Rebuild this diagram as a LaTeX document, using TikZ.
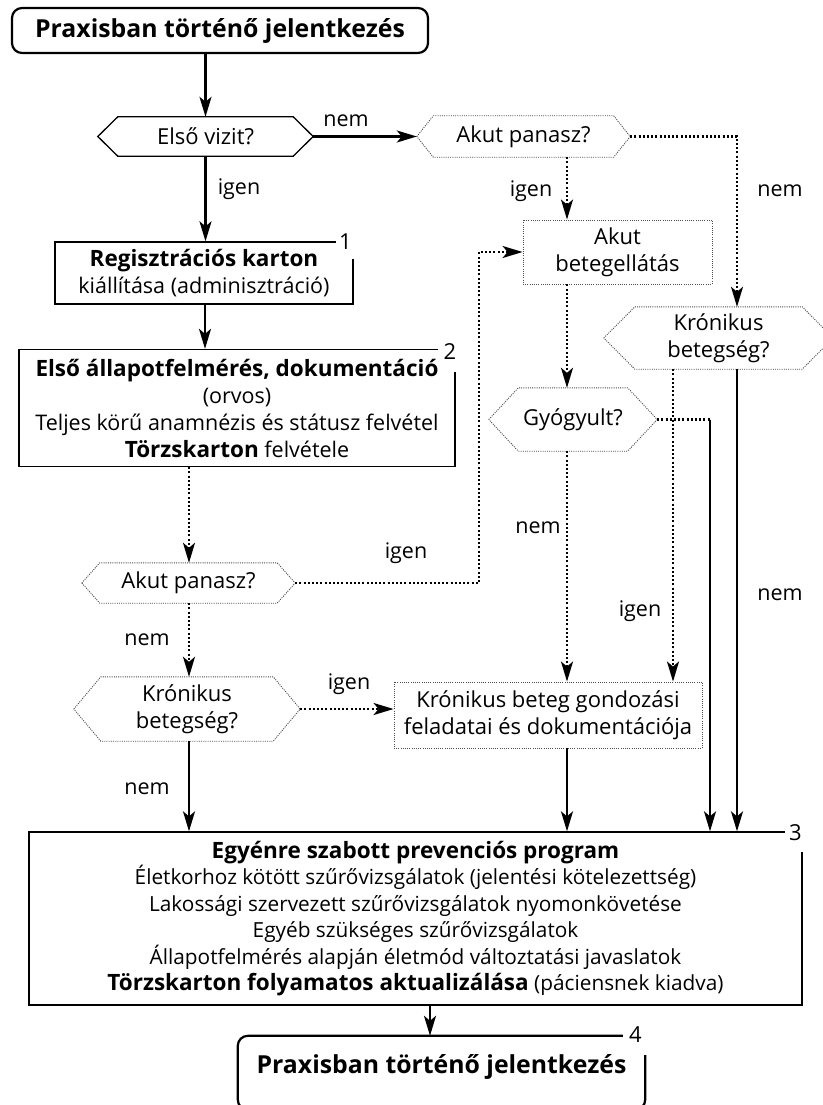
\documentclass[tikz,border=0pt]{standalone}
\usepackage{fontspec}
\setmainfont{Open Sans}
\usetikzlibrary{arrows.meta,calc}
\newcommand\hexa[3]{\draw[#3] (#1.west) -- ([xshift=#2pt]#1.north west) -- ([xshift=-#2pt]#1.north east) -- (#1.east) -- ([xshift=-#2pt]#1.south east) -- ([xshift=#2pt]#1.south west) -- cycle;}
\newcommand\bfx[1]{{\fontsize{22.5}{27}\selectfont\bfseries #1}}
\newcommand\bfy[1]{{\fontsize{22.5}{26.5}\selectfont\bfseries #1}}
\begin{document}
\begin{tikzpicture}[x=1pt,y=-1pt,
  every node/.style={font=\fontsize{22}{27}\selectfont, align=center, inner sep=0pt},
  sz/.style 2 args={minimum width=#1pt, minimum height=#2pt},
  solidbox/.style={draw, line width=1.3pt},
  dotline/.style={draw=black!70, line width=0.9pt, dash pattern=on 1pt off 1.2pt},
  dotbox/.style={dotline},
  thickbox/.style={draw, line width=2.2pt, rounded corners=10pt},
  arr/.style={line width=2.2pt, -{Stealth[length=20pt,width=12pt,inset=5pt]}},
  darr/.style={arr, dash pattern=on 2pt off 2.2pt},
  dline/.style={line width=2.2pt, dash pattern=on 2pt off 2.2pt},
  lab/.style={font=\fontsize{21.5}{26}\selectfont},
  numlab/.style={fill=white, font=\fontsize{22}{26}\selectfont},
  titlefont/.style={font=\fontsize{24.8}{28}\selectfont\bfseries},
]
\fill[white] (0,0) rectangle (822,1105);
\useasboundingbox (0,0) rectangle (822,1105);
\coordinate (c567) at (567,0);
\coordinate (c673) at (673,0);
\coordinate (c710) at (710,0);
\coordinate (c737) at (737,0);
\coordinate (c479) at (479,0);
\coordinate (c205) at (205,0);
\coordinate (c189) at (189,0);
\coordinate (c430) at (430,0);

% nodes
\node[thickbox, titlefont, sz={416}{45}] (start) at (220,30.5) {Praxisban történő jelentkezés};
\node[sz={215}{39}] (dec1) at (205.5,136.5) {Első vizit?};
\hexa{dec1}{20}{solidbox}
\node[sz={213}{41}] (akut1) at (523.5,136.5) {Akut panasz?};
\hexa{akut1}{16.5}{dotline}
\node[sz={229}{62}] (kron1) at (718.5,338) {Krónikus\\betegség?};
\hexa{kron1}{31}{dotline}
\node[dotbox, sz={189}{64}] (akutb) at (617.5,252) {Akut\\betegellátás};
\node[sz={168}{63}] (gyo) at (573,419.5) {Gyógyult?};
\hexa{gyo}{29.5}{dotline}
\node[solidbox, sz={298}{62}, font=\fontsize{21.5}{27}\selectfont] (reg) at (204,273) {\bfx{Regisztrációs karton}\\kiállítása (adminisztráció)};
\node[solidbox, sz={436}{117}, font=\fontsize{21.5}{27}\selectfont] (ell) at (237,408) {\bfx{Első állapotfelmérés, dokumentáció}\\(orvos)\\Teljes körű anamnézis és státusz felvétel\\\bfx{Törzskarton} felvétele};
\node[sz={213}{40}] (akut2) at (188.5,583) {Akut panasz?};
\hexa{akut2}{18}{dotline}
\node[sz={226}{64}] (kron2) at (187,709) {Krónikus\\betegség?};
\hexa{kron2}{27}{dotline}
\node[dotbox, sz={308}{66}, font=\fontsize{22}{27}\selectfont] (krbox) at (548,715) {Krónikus beteg gondozási\\feladatai és dokumentációja};
\node[solidbox, sz={773}{173}, font=\fontsize{20.8}{26.5}\selectfont] (prev) at (415.5,918.5) {\bfy{Egyénre szabott prevenciós program}\\
Életkorhoz kötött szűrővizsgálatok (jelentési kötelezettség)\\
Lakossági szervezett szűrővizsgálatok nyomonkövetése\\
Egyéb szükséges szűrővizsgálatok\\
Állapotfelmérés alapján életmód változtatási javaslatok\\
\bfy{Törzskarton folyamatos aktualizálása} (páciensnek kiadva)};
\node[titlefont, sz={407}{62}] (end) at (441.5,1067) {Praxisban történő jelentkezés};
\draw[thickbox] (end.north west) rectangle ([yshift=-74pt]end.north east);

% number labels
\node[numlab, sz={19}{34}] (n1) at (345.5,242) {1};
\node[numlab, sz={24}{40}] (n2) at (450,352) {2};
\node[numlab, sz={21}{38}] (n3) at (795.5,833) {3};
\node[numlab, sz={25}{40}] (n4) at (635.5,1035) {4};

% connectors
\draw[arr] (start.south -| dec1.north) -- (dec1.north);
\draw[arr] (dec1.east) -- (akut1.west);
\node[lab] (l1) at (346,121) {nem};
\draw[darr] (akut1.south -| c567) -- (akutb.north -| c567);
\node[lab] (l2) at (531,191) {igen};
\draw[darr] (akut1.east) -| (kron1.north -| c737);
\node[lab] (l3) at (780,191) {nem};
\draw[arr] (dec1.south) -- (reg.north -| dec1.south);
\node[lab] (l4) at (239,189) {igen};
\draw[arr] (reg.south -| c205) -- (ell.north -| c205);
\draw[darr] (ell.south -| c189) -- (akut2.north -| c189);
\draw[darr] (akut2.east) -| (c479 |- akutb.west) -- (akutb.west);
\node[lab] (l5) at (406,553) {igen};
\draw[darr] (akut2.south -| c189) -- (kron2.north -| c189);
\node[lab] (l6) at (147,640) {nem};
\draw[darr] (kron2.east) -- (krbox.west |- kron2.east);
\node[lab] (l7) at (349,684) {igen};
\draw[arr] (kron2.south -| c189) -- (prev.north -| c189);
\node[lab] (l8) at (147,789) {nem};
\draw[darr] (akutb.south -| c567) -- (gyo.north -| c567);
\draw[darr] (gyo.south -| c567) -- (krbox.north -| c567);
\node[lab] (l9) at (538,528) {nem};
\draw[dline] (gyo.east) -- (c710 |- gyo.east);
\draw[arr] (c710 |- gyo.east) -- (prev.north -| c710);
\draw[darr] (kron1.south -| c673) -- (krbox.north -| c673);
\node[lab] (l10) at (640,611) {igen};
\draw[arr] (kron1.south -| c737) -- (prev.north -| c737);
\node[lab] (l11) at (780,595) {nem};
\draw[arr] (krbox.south -| c567) -- (prev.north -| c567);
\draw[arr] (prev.south -| c430) -- (end.north -| c430);
\end{tikzpicture}
\end{document}
